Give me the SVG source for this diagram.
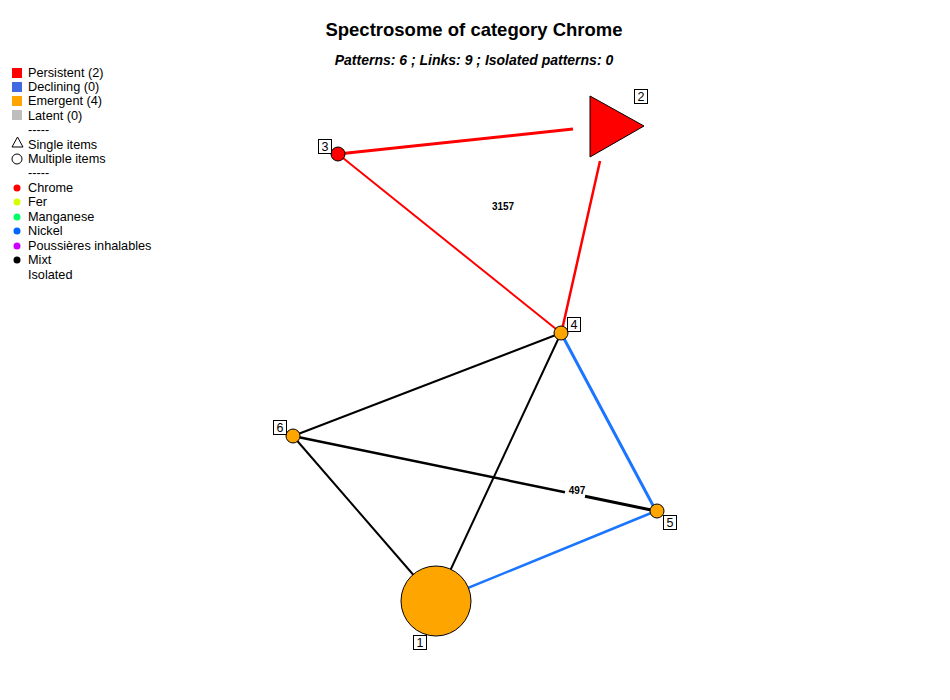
<svg xmlns="http://www.w3.org/2000/svg" width="950" height="700" viewBox="0 0 950 700">
<style>
text{font-family:"Liberation Sans",Arial,sans-serif;fill:#000}
.lg{font-size:12.7px}
.nl{font-size:12.5px}
.box{fill:#fff;stroke:#000;stroke-width:1}
.node{stroke:#000;stroke-width:1}
.el{font-size:10px;font-weight:bold}
</style>
<rect width="950" height="700" fill="#fff"/>
<text x="474" y="36" text-anchor="middle" font-size="18.5" font-weight="bold">Spectrosome of category Chrome</text>
<text x="474" y="65" text-anchor="middle" font-size="14" font-weight="bold" font-style="italic">Patterns: 6 ; Links: 9 ; Isolated patterns: 0</text>
<g id="legend">
<rect x="12" y="68" width="10" height="10" fill="#FF0000"/>
<text class="lg" x="28" y="77">Persistent (2)</text>
<rect x="12" y="82" width="10" height="10" fill="#4169E1"/>
<text class="lg" x="28" y="91">Declining (0)</text>
<rect x="12" y="96" width="10" height="10" fill="#FFA500"/>
<text class="lg" x="28" y="105">Emergent (4)</text>
<rect x="12" y="110" width="10" height="10" fill="#BEBEBE"/>
<text class="lg" x="28" y="120">Latent (0)</text>
<text class="lg" x="28" y="134">-----</text>
<polygon points="17.5,137 12,147 23,147" fill="none" stroke="#000"/>
<text class="lg" x="28" y="149">Single items</text>
<circle cx="17" cy="159" r="5" fill="none" stroke="#000"/>
<text class="lg" x="28" y="163">Multiple items</text>
<text class="lg" x="28" y="177">-----</text>
<circle cx="17" cy="188" r="3.5" fill="#FF0000"/>
<text class="lg" x="28" y="192">Chrome</text>
<circle cx="17" cy="202" r="3.5" fill="#D4FF00"/>
<text class="lg" x="28" y="206">Fer</text>
<circle cx="17" cy="217" r="3.5" fill="#00FF66"/>
<text class="lg" x="28" y="221">Manganese</text>
<circle cx="17" cy="231" r="3.5" fill="#0066FF"/>
<text class="lg" x="28" y="235">Nickel</text>
<circle cx="17" cy="246" r="3.5" fill="#CC00FF"/>
<text class="lg" x="28" y="250">Poussières inhalables</text>
<circle cx="17" cy="260" r="3.5" fill="#000"/>
<text class="lg" x="28" y="264">Mixt</text>
<text class="lg" x="28" y="279">Isolated</text>
</g>
<g id="connectors" fill="none" stroke-linecap="butt">
<line x1="338" y1="154" x2="573" y2="129" stroke="#FF0000" stroke-width="3"/>
<line x1="600" y1="161" x2="562" y2="330" stroke="#FF0000" stroke-width="2.5"/>
<line x1="338" y1="154" x2="561" y2="333" stroke="#FF0000" stroke-width="2"/>
<line x1="293" y1="436" x2="561" y2="333" stroke="#000" stroke-width="2"/>
<line x1="436" y1="601" x2="561" y2="333" stroke="#000" stroke-width="2"/>
<line x1="561" y1="333" x2="656" y2="511" stroke="#1A75FF" stroke-width="3"/>
<line x1="293" y1="436" x2="565" y2="492.2" stroke="#000" stroke-width="2.5"/>
<line x1="585" y1="496.3" x2="656" y2="511" stroke="#000" stroke-width="3"/>
<line x1="293" y1="436" x2="436" y2="601" stroke="#000" stroke-width="2"/>
<line x1="436" y1="601" x2="656" y2="511" stroke="#1A75FF" stroke-width="2.5"/>
<text class="el" x="503" y="210" text-anchor="middle">3157</text>
<text class="el" x="577" y="494" text-anchor="middle">497</text>
</g>
<g id="node1"><circle class="node" cx="436" cy="601" r="35" fill="#FFA500"/><rect class="box" x="413.5" y="635.5" width="13" height="14"/><text class="nl" x="420" y="647" text-anchor="middle">1</text></g>
<g id="node2"><polygon class="node" points="590,96 590,157 644,126" fill="#FF0000"/><rect class="box" x="634.5" y="89.5" width="13" height="14"/><text class="nl" x="641" y="101" text-anchor="middle">2</text></g>
<g id="node3"><circle class="node" cx="338" cy="154" r="7" fill="#FF0000"/><rect class="box" x="318.5" y="139.5" width="13" height="14"/><text class="nl" x="325" y="151" text-anchor="middle">3</text></g>
<g id="node4"><circle class="node" cx="561" cy="333" r="7" fill="#FFA500"/><rect class="box" x="567.5" y="317.5" width="13" height="14"/><text class="nl" x="574" y="329" text-anchor="middle">4</text></g>
<g id="node5"><circle class="node" cx="657" cy="511" r="7" fill="#FFA500"/><rect class="box" x="663.5" y="515.5" width="13" height="14"/><text class="nl" x="670" y="527" text-anchor="middle">5</text></g>
<g id="node6"><circle class="node" cx="293" cy="436" r="7" fill="#FFA500"/><rect class="box" x="273.5" y="420.5" width="13" height="14"/><text class="nl" x="280" y="432" text-anchor="middle">6</text></g>
</svg>
